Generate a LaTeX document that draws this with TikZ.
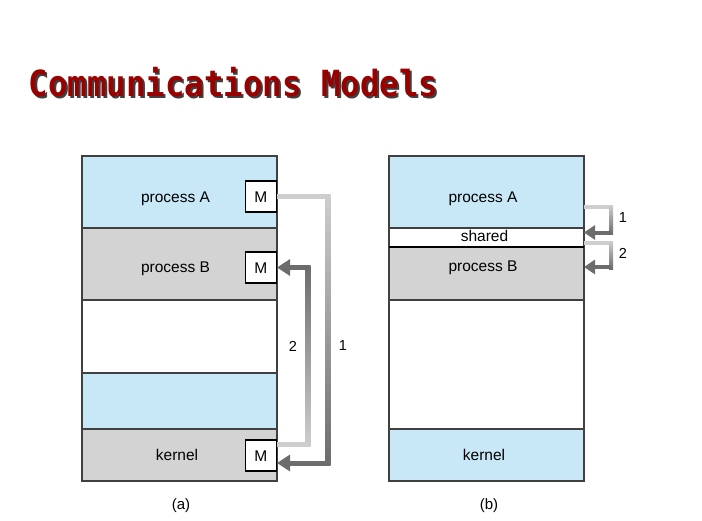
\documentclass[tikz,border=0pt]{standalone}
\usepackage{fontspec}
\setmainfont{Liberation Sans}
\newfontfamily\titlefont{DejaVu Sans Mono}
\usetikzlibrary{arrows.meta,positioning,calc}
\definecolor{procblue}{RGB}{200,232,248}
\definecolor{procgray}{RGB}{211,211,211}
\definecolor{titlered}{RGB}{153,0,0}
\definecolor{arrlight}{RGB}{206,206,206}
\definecolor{arrdark}{RGB}{108,108,108}
\tikzset{
  memrow/.style={draw=black!75, line width=1.2pt, inner sep=0pt, outer sep=0pt,
    minimum width=195pt, text depth=0pt, font=\fontsize{15.5}{18}\selectfont},
  msgbox/.style={draw=black, line width=1.5pt, fill=white, inner sep=0pt, minimum size=31pt,
    text height=11pt, text depth=0pt, anchor=east, font=\fontsize{15.5}{18}\selectfont},
  titletext/.style={font=\titlefont\bfseries\fontsize{36}{40}\selectfont, xscale=0.9,
    inner sep=0pt, anchor=base west},
  numlabel/.style={font=\fontsize{14.5}{17}\selectfont, inner sep=1pt},
  wide arrow/.style={line width=5pt},
  thin arrow/.style={line width=4pt}
}
\begin{document}
\begin{tikzpicture}[x=1pt,y=-1pt]
	    \useasboundingbox[fill=white] (0,0) rectangle (702,520);
	    % title
	    \node[titletext, text=black!75] (titleshadow) at (30.5,98.5) {Communications Models};
	    \node[titletext, text=titlered] (title) at (28.5,96.5) {Communications Models};
	    % (a) message passing
	    \node[memrow, fill=procblue, minimum height=72pt, text height=20pt, anchor=north west] (aA) at (82,156) {process A\hspace*{8pt}};
	    \node[memrow, fill=procgray, minimum height=72pt, text height=16pt, below=0pt of aA] (aB) {process B\hspace*{8pt}};
	    \node[memrow, fill=white, minimum height=73pt, below=0pt of aB] (aFree) {};
	    \node[memrow, fill=procblue, minimum height=56pt, below=0pt of aFree] (aUser) {};
	    \node[memrow, fill=procgray, minimum height=52pt, text height=10pt, below=0pt of aUser] (aK) {kernel\hspace*{5pt}};
	    \node[msgbox] (mA) at ($(aA.east)+(0,4.5)$) {M};
	    \node[msgbox] (mB) at ($(aB.east)+(0,3.5)$) {M};
	    \node[msgbox] (mK) at ($(aK.east)+(0,0.5)$) {M};
	    \coordinate (a1c) at ($(mA.east)+(51,0)$);
	    \coordinate (k1) at ($(mK.east)+(0,7.5)$);
	    \coordinate (k2) at ($(mK.east)+(0,-11.5)$);
	    \coordinate (a2c) at ($(mB.east)+(31,0)$);
	    % arrow 1: A -> kernel
	    \draw[wide arrow, arrlight] (mA.east) -- (a1c);
	    \shade[top color=arrlight, bottom color=arrdark] ($(a1c)+(-2.5,-2.5)$) rectangle ($(a1c |- k1)+(2.5,2.5)$);
	    \draw[wide arrow, arrdark, -{Triangle[length=13pt,width=16pt]}] (a1c |- k1) -- (k1);
	    % arrow 2: kernel -> B
	    \draw[wide arrow, arrlight] (k2) -- (a2c |- k2);
	    \shade[top color=arrdark, bottom color=arrlight] ($(a2c)+(-2.5,-2.5)$) rectangle ($(a2c |- k2)+(2.5,2.5)$);
	    \draw[wide arrow, arrdark, -{Triangle[length=13pt,width=16pt]}] (a2c) -- (mB.east);
	    \node[numlabel] (n2a) at (293,346) {2};
	    \node[numlabel] (n1a) at (343,346) {1};
	    \node[numlabel, font=\fontsize{15}{18}\selectfont] (capa) at (181,506) {(a)};
	    % (b) shared memory
	    \node[memrow, fill=procblue, minimum height=72pt, text height=20pt, anchor=north west] (bA) at (389,156) {process A\hspace*{7pt}};
	    \node[memrow, fill=white, minimum height=19pt, text height=8pt, below=0pt of bA] (bS) {shared\hspace*{4pt}};
	    \node[memrow, fill=procgray, minimum height=53pt, text height=0pt, text depth=4pt, below=0pt of bS] (bB) {process B\hspace*{7pt}};
	    \node[memrow, fill=white, minimum height=129pt, below=0pt of bB] (bFree) {};
	    \node[memrow, fill=procblue, minimum height=52pt, text height=10pt, below=0pt of bFree] (bK) {kernel\hspace*{5pt}};
	    \draw[line width=2.4pt] (bS.south west) -- (bS.south east);
	    \coordinate (b1s) at ($(bA.south east)+(0,-21)$);
	    \coordinate (b1c) at ($(b1s)+(27,0)$);
	    \coordinate (b1e) at ($(bS.east)+(0,-5)$);
	    \coordinate (b2s) at ($(bS.east)+(0,5.5)$);
	    \coordinate (b2c) at (b1c |- b2s);
	    \coordinate (b2e) at ($(bB.east)+(0,-6.5)$);
	    % arrow 1: A -> shared
	    \draw[thin arrow, arrlight] (b1s) -- (b1c);
	    \shade[top color=arrlight, bottom color=arrdark] ($(b1c)+(-2,-2)$) rectangle ($(b1c |- b1e)+(2,2)$);
	    \draw[thin arrow, arrdark, -{Triangle[length=11pt,width=14pt]}] (b1c |- b1e) -- (b1e);
	    % arrow 2: shared -> B
	    \draw[thin arrow, arrlight] (b2s) -- (b2c);
	    \shade[top color=arrlight, bottom color=arrdark] ($(b2c)+(-2,-2)$) rectangle ($(b2c |- b2e)+(2,2)$);
	    \draw[thin arrow, arrdark, -{Triangle[length=11pt,width=14pt]}] (b2c |- b2e) -- (b2e);
	    \node[numlabel] (n1b) at (623,218) {1};
	    \node[numlabel] (n2b) at (623,253) {2};
	    \node[numlabel, font=\fontsize{15}{18}\selectfont] (capb) at (489,506) {(b)};
	\end{tikzpicture}
\end{document}
